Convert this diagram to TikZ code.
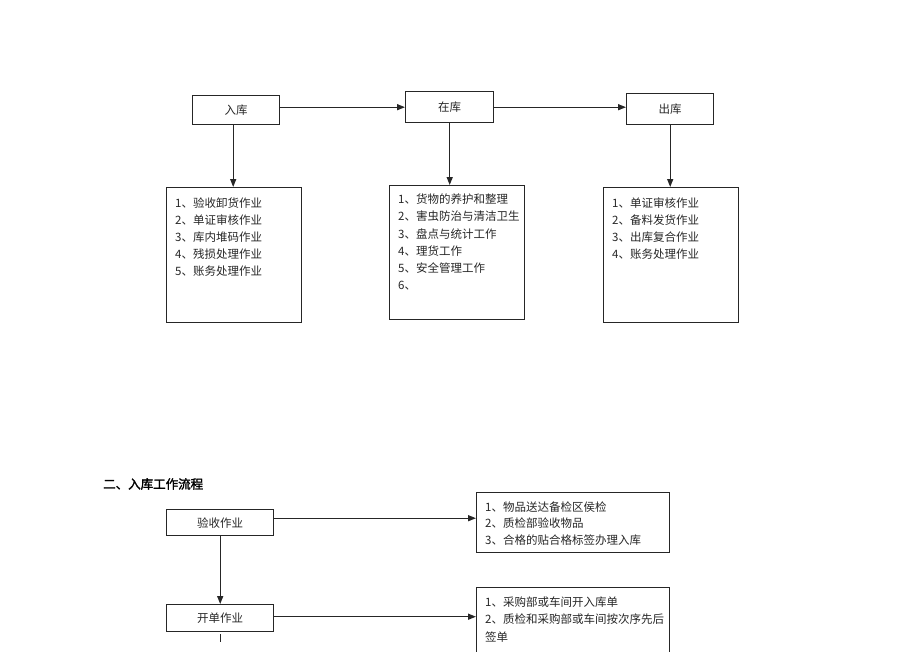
\documentclass[tikz,border=0pt]{standalone}
\usepackage{fontspec}
\setmainfont[AutoFakeBold=2]{Noto Sans CJK SC}
\usetikzlibrary{arrows.meta}
\begin{document}
\begin{tikzpicture}[x=1pt,y=-1pt,
  box/.style={draw=black!85, line width=1.4pt, inner sep=0pt, anchor=north west, text=black!85, font=\fontsize{11.5}{13}\selectfont},
  item/.style={anchor=west, font=\fontsize{11.5}{13}\selectfont, inner sep=0pt, text=black!85},
  arr/.style={-{Triangle[length=8pt,width=6pt]}, line width=1.4pt, draw=black!85}]
\useasboundingbox (0,0) rectangle (920,651);
\clip (0,0) rectangle (920,651);
% top row
\node[box, minimum width=87pt, minimum height=29pt] (rk) at (192,95) {入库};
\node[box, minimum width=88pt, minimum height=31pt] (zk) at (405,91) {在库};
\node[box, minimum width=87pt, minimum height=31pt] (ck) at (626,93) {出库};
\node[box, minimum width=135pt, minimum height=135pt] (b1) at (166,187) {};
\node[box, minimum width=135pt, minimum height=134pt] (b2) at (389,185) {};
\node[box, minimum width=135pt, minimum height=135pt] (b3) at (603,187) {};
\draw[arr] (rk.east |- zk.west) -- (zk.west);
\draw[arr] (zk.east) -- (zk.east -| ck.west);
\draw[arr] ([xshift=-3pt]rk.south) -- ([xshift=-3pt]rk.south |- b1.north);
\draw[arr] (zk.south) -- (zk.south |- b2.north);
\draw[arr] (ck.south) -- (ck.south |- b3.north);
% list 1
\node[item] (a1) at (175,203) {1、验收卸货作业};
\node[item] (a2) at (175,220) {2、单证审核作业};
\node[item] (a3) at (175,237) {3、库内堆码作业};
\node[item] (a4) at (175,254) {4、残损处理作业};
\node[item] (a5) at (175,271) {5、账务处理作业};
% list 2
\node[item] (c1) at (398,199) {1、货物的养护和整理};
\node[item] (c2) at (398,216) {2、害虫防治与清洁卫生};
\node[item] (c3) at (398,234) {3、盘点与统计工作};
\node[item] (c4) at (398,251) {4、理货工作};
\node[item] (c5) at (398,268) {5、安全管理工作};
\node[item] (c6) at (398,286) {6、};
% list 3
\node[item] (d1) at (612,203) {1、单证审核作业};
\node[item] (d2) at (612,220) {2、备料发货作业};
\node[item] (d3) at (612,237) {3、出库复合作业};
\node[item] (d4) at (612,254) {4、账务处理作业};
% bottom section
\node[anchor=west, inner sep=0pt, font=\fontsize{12.5}{14}\selectfont\bfseries] (title) at (103,484) {二、入库工作流程};
\node[box, minimum width=107pt, minimum height=26pt] (ys) at (166,509) {验收作业};
\node[box, minimum width=107pt, minimum height=27pt] (kd) at (166,604) {开单作业};
\node[box, minimum width=193pt, minimum height=60pt] (rb1) at (476,492) {};
\node[box, minimum width=193pt, minimum height=90pt] (rb2) at (476,587) {};
\draw[arr] (ys.south) -- (kd.north);
\coordinate (tail) at ([yshift=-10pt]kd.south);
\draw[line width=1.4pt, draw=black!85] ([yshift=-2pt]kd.south) -- (tail);
\draw[arr] ([yshift=4.5pt]ys.east) -- ([yshift=4.5pt]ys.east -| rb1.west);
\draw[arr] ([yshift=1.5pt]kd.east) -- ([yshift=1.5pt]kd.east -| rb2.west);
\node[item] (e1) at (485,507) {1、物品送达备检区侯检};
\node[item] (e2) at (485,523) {2、质检部验收物品};
\node[item] (e3) at (485,540) {3、合格的贴合格标签办理入库};
\node[item] (f1) at (485,602) {1、采购部或车间开入库单};
\node[item] (f2) at (485,619) {2、质检和采购部或车间按次序先后};
\node[item] (f3) at (485,637) {签单};
\end{tikzpicture}
\end{document}
